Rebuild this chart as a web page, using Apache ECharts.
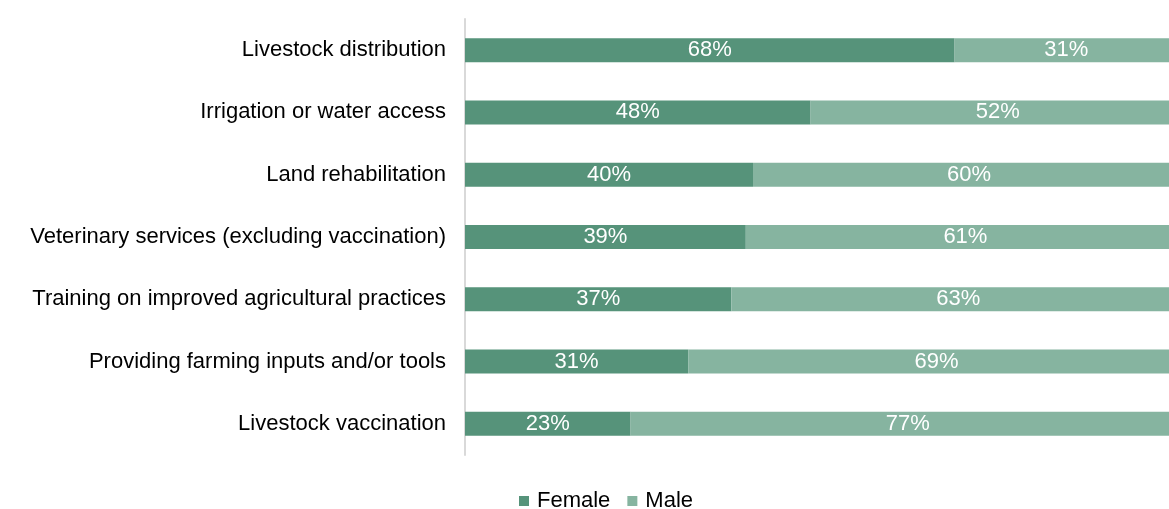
<!DOCTYPE html>
<html>
<head>
<meta charset="utf-8">
<script src="https://cdn.jsdelivr.net/npm/echarts@6/dist/echarts.min.js"></script>
<style>
  html, body { margin: 0; padding: 0; background: #fff; }
  #chart { width: 1169px; height: 509px; }
</style>
</head>
<body>
<div id="chart"></div>
<script>
const categories = [
  'Livestock distribution',
  'Irrigation or water access',
  'Land rehabilitation',
  'Veterinary services (excluding vaccination)',
  'Training on improved agricultural practices',
  'Providing farming inputs and/or tools',
  'Livestock vaccination'
];
const female = [68, 48, 40, 39, 37, 31, 23];
const male = [31, 52, 60, 61, 63, 69, 77];

const FONT = 'Liberation Sans, Arial, sans-serif';
const chart = echarts.init(document.getElementById('chart'));

const barLabel = {
  show: true,
  position: 'inside',
  color: '#fff',
  fontFamily: FONT,
  fontSize: 22,
  padding: [3, 0, 0, 0],
  formatter: p => p.value + '%'
};

chart.setOption({
  animation: false,
  backgroundColor: '#fff',
  // plot area runs past the right edge, as in the original export
  grid: { left: 465, width: 720, top: 19, bottom: 54, outerBoundsMode: 'none', containLabel: false },
  legend: {
    top: 485,
    left: 514,
    icon: 'rect',
    itemWidth: 10,
    itemHeight: 10,
    itemGap: 17,
    textStyle: { fontFamily: FONT, fontSize: 22, color: '#000', padding: [0, 0, 0, 3] },
    data: ['Female', 'Male']
  },
  xAxis: {
    type: 'value',
    min: 0,
    max: 100,
    show: false
  },
  yAxis: {
    type: 'category',
    data: categories,
    inverse: true,
    axisLine: { show: true, lineStyle: { color: '#d9d9d9', width: 2 } },
    axisTick: { show: false },
    axisLabel: {
      margin: 19,
      color: '#000',
      fontFamily: FONT,
      fontSize: 22,
      padding: [4, 0, 0, 0]
    }
  },
  series: [
    {
      name: 'Female',
      type: 'bar',
      stack: 'total',
      barWidth: 24,
      itemStyle: { color: '#56937a' },
      label: barLabel,
      data: female
    },
    {
      name: 'Male',
      type: 'bar',
      stack: 'total',
      barWidth: 24,
      itemStyle: { color: '#86b4a0' },
      label: barLabel,
      data: male
    }
  ]
});
</script>
</body>
</html>
